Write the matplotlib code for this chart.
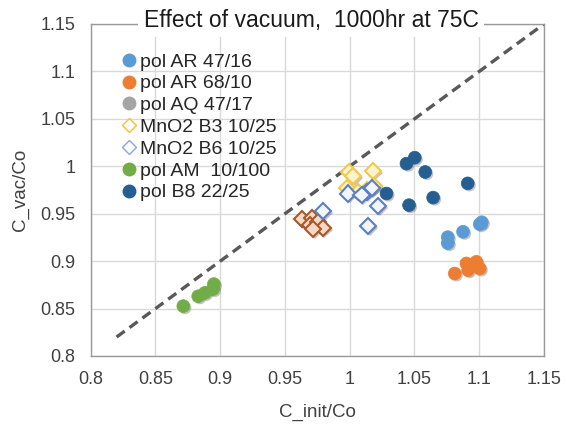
import matplotlib
matplotlib.use("Agg")
import matplotlib.pyplot as plt
import matplotlib.patheffects as pe
from matplotlib.lines import Line2D

plt.rcParams['font.family'] = ['Liberation Sans', 'DejaVu Sans']

# ---- data ----
ar4716_x = [1.0757, 1.0757, 1.0875, 1.1004, 1.1020]
ar4716_y = [0.9253, 0.9190, 0.9310, 0.9390, 0.9410]

ar6810_x = [1.0811, 1.0901, 1.0914, 1.0978, 1.1004, 1.0950]
ar6810_y = [0.8870, 0.8976, 0.8905, 0.8993, 0.8923, 0.8960]

aq4717_x = []
aq4717_y = []

b3_x = [0.9994, 1.0025, 1.0178, 0.9978, 1.0063, 1.0186, 1.0132]
b3_y = [0.9937, 0.9895, 0.9947, 0.9768, 0.9726, 0.9790, 0.9747]

b6_x = [0.9795, 1.0142, 1.0219, 1.0130, 1.0170, 0.9988, 1.0091]
b6_y = [0.9526, 0.9368, 0.9582, 0.9730, 0.9768, 0.9713, 0.9695]

brown_x = [0.9630, 0.9708, 0.9692, 0.9754, 0.9792, 0.9716]
brown_y = [0.9442, 0.9453, 0.9379, 0.9411, 0.9347, 0.9337]

am_x = [0.8715, 0.8830, 0.8882, 0.8951, 0.8944]
am_y = [0.8526, 0.8630, 0.8666, 0.8758, 0.8705]

b8_x = [1.0284, 1.0458, 1.0438, 1.0502, 1.0583, 1.0644, 1.0911]
b8_y = [0.9713, 0.9590, 1.0028, 1.0091, 0.9940, 0.9670, 0.9820]

diag = [0.82, 1.15]

ticks = [0.8, 0.85, 0.9, 0.95, 1.0, 1.05, 1.1, 1.15]
tick_labels = ['0.8', '0.85', '0.9', '0.95', '1', '1.05', '1.1', '1.15']

title = 'Effect of vacuum,  1000hr at 75C'
xlabel = 'C_init/Co'
ylabel = 'C_vac/Co'

# ---- figure ----
fig = plt.figure(figsize=(5.67, 4.26), dpi=100)
ax = fig.add_axes([90.7/567, 1-356/426, (544-90.7)/567, (356-24)/426])

ax.set_xlim(0.8, 1.15)
ax.set_ylim(0.8, 1.15)
ax.set_xticks(ticks)
ax.set_xticklabels(tick_labels)
ax.set_yticks(ticks)
ax.set_yticklabels(tick_labels)
ax.grid(True, color='#D9D9D9', lw=1)
ax.set_axisbelow(True)
ax.tick_params(length=0, labelsize=13, colors='#404040', pad=11)
for s in ax.spines.values():
    s.set_color('#999999')
    s.set_linewidth(1)

ax.plot(diag, diag, color='#595959', lw=2.4, linestyle=(0, (3, 1.8)), zorder=2)

shadow = [pe.SimplePatchShadow(offset=(1.2, -1.2), alpha=0.35, shadow_rgbFace='#555555'), pe.Normal()]

def circ(x, y, c):
    ax.plot(x, y, 'o', ms=9.2, mfc=c, mec=c, mew=0.5, linestyle='none',
            path_effects=shadow, zorder=3)

def diam(x, y, ec, fc):
    ax.plot(x, y, 'D', ms=8.3, mfc=fc, mec=ec, mew=1.5, linestyle='none',
            path_effects=shadow, zorder=3)

circ(ar4716_x, ar4716_y, '#5B9BD5')
circ(ar6810_x, ar6810_y, '#ED7D31')
circ(aq4717_x, aq4717_y, '#A5A5A5')
diam(brown_x, brown_y, '#A8582A', '#F3D9C6')
diam(b3_x, b3_y, '#F2C94C', '#FFF3CF')
diam(b6_x, b6_y, '#5B7FC4', '#F2F5FC')
circ(am_x, am_y, '#70AD47')
circ(b8_x, b8_y, '#255E91')

ax.set_xlabel(xlabel, fontsize=13.5, color='#404040', labelpad=11)
ax.set_ylabel(ylabel, fontsize=13.5, color='#404040', labelpad=8)

handles = [
    Line2D([], [], marker='o', ls='none', ms=9, mfc='#5B9BD5', mec='#5B9BD5'),
    Line2D([], [], marker='o', ls='none', ms=9, mfc='#ED7D31', mec='#ED7D31'),
    Line2D([], [], marker='o', ls='none', ms=9, mfc='#A5A5A5', mec='#A5A5A5'),
    Line2D([], [], marker='D', ls='none', ms=7, mfc='white', mec='#F2C230', mew=1),
    Line2D([], [], marker='D', ls='none', ms=7, mfc='white', mec='#8FA3DA', mew=1),
    Line2D([], [], marker='o', ls='none', ms=9, mfc='#70AD47', mec='#70AD47'),
    Line2D([], [], marker='o', ls='none', ms=9, mfc='#255E91', mec='#255E91'),
]
labels = ['pol AR 47/16', 'pol AR 68/10', 'pol AQ 47/17', 'MnO2 B3 10/25',
          'MnO2 B6 10/25', 'pol AM  10/100', 'pol B8 22/25']
leg = ax.legend(handles, labels, loc='upper left', bbox_to_anchor=(122/567, 1-53/426),
                bbox_transform=fig.transFigure, frameon=False, fontsize=14,
                handlelength=0.7, handletextpad=0.25, labelspacing=0.215, borderpad=0,
                borderaxespad=0)
for t in leg.get_texts():
    t.set_color('#262626')

fig.text(311/567, 1-20/426, title, ha='center', va='center', fontsize=16.5, color='#1a1a1a',
         bbox=dict(boxstyle='square,pad=0.25', fc='white', ec='none'))

fig.savefig('out.png', dpi=100)
